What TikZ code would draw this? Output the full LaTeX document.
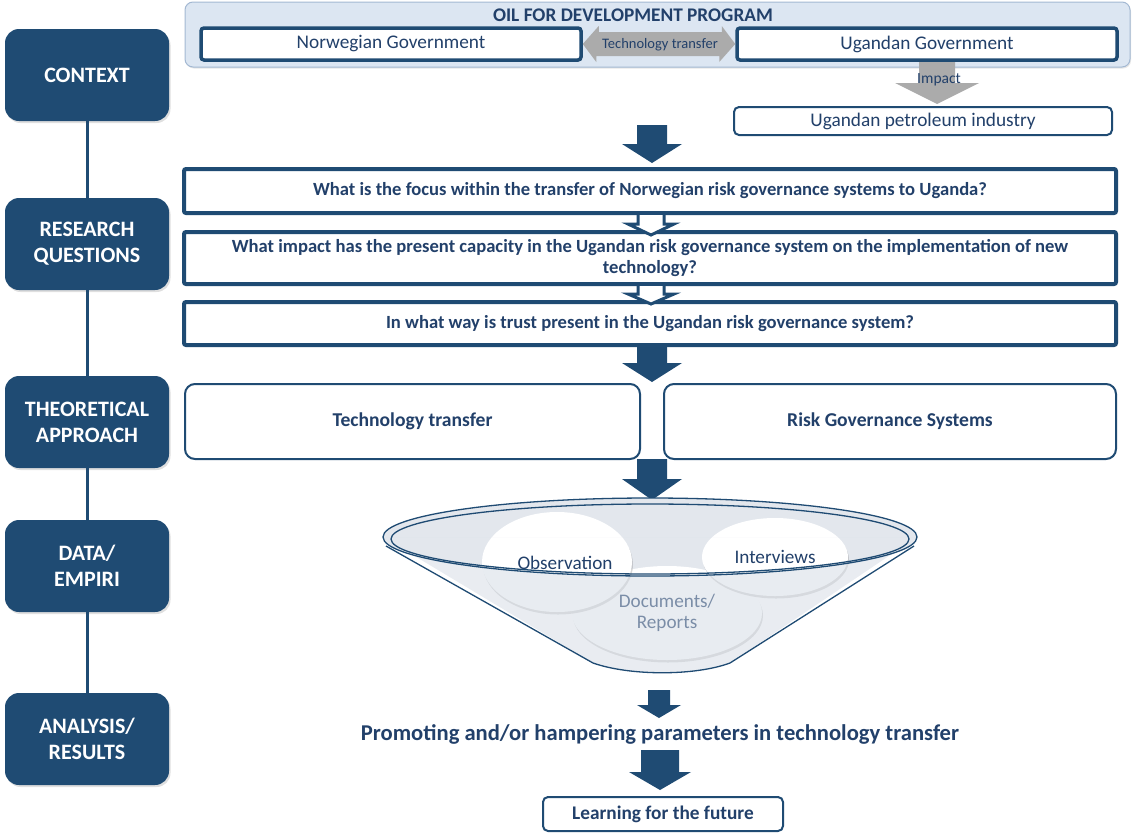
\documentclass[tikz,border=0pt]{standalone}
\usepackage{fontspec}
\setmainfont{Carlito}
\usetikzlibrary{shapes.geometric,shadows}
\definecolor{navy}{HTML}{1F4B73}
\definecolor{ink}{HTML}{22406A}
\definecolor{paleblue}{HTML}{DCE6F2}
\definecolor{frameblue}{HTML}{A3B8D2}
\definecolor{arrowgray}{HTML}{ABABAB}
\definecolor{funnelback}{HTML}{E3E7ED}
\definecolor{funnelfront}{HTML}{D3DAE4}

\begin{document}
\begin{tikzpicture}[x=1pt,y=-1pt,
  stage/.style={fill=navy, rounded corners=14pt, text=white,
    font=\bfseries\fontsize{22}{26}\selectfont, align=center,
    minimum width=164pt, minimum height=92pt, inner sep=0pt,
    drop shadow={opacity=0.25, shadow xshift=1.5pt, shadow yshift=-2pt}},
  govbox/.style={draw=navy, line width=3.5pt, fill=white, rounded corners=3pt,
    minimum width=380pt, minimum height=32pt, inner sep=0pt, text=ink,
    font=\fontsize{19.3}{22}\selectfont,
    drop shadow={opacity=0.2, shadow xshift=1pt, shadow yshift=-1.5pt}},
  question/.style={draw=navy, line width=4pt, fill=white, rounded corners=2pt,
    minimum width=932pt, inner sep=0pt, text=ink, align=center,
    font=\bfseries\fontsize{18.6}{21.5}\selectfont,
    drop shadow={opacity=0.2, shadow xshift=1pt, shadow yshift=-1.5pt}},
  theory/.style={draw=navy, line width=2pt, fill=white, rounded corners=10pt,
    minimum height=75pt, inner sep=0pt, text=ink,
    font=\bfseries\fontsize{19.6}{22}\selectfont},
  thinbox/.style={draw=navy, line width=2pt, fill=white, rounded corners=5pt,
    inner sep=0pt, text=ink},
  bubble/.style={ellipse, fill=white, inner sep=0pt, text=ink, align=center,
    font=\fontsize{19.2}{21}\selectfont,
    drop shadow={opacity=0.3, shadow xshift=1pt, shadow yshift=-2.5pt}},
  link/.style={draw=navy, line width=3pt},
  pics/blockdown/.style args={#1/#2/#3/#4}{code={
    \path[pic actions] (-#3,0) -- (#3,0) -- (#3,#1) -- (#4,#1) -- (0,#2)
      -- (-#4,#1) -- (-#3,#1) -- cycle;}},
  pics/hollowdown/.style args={#1/#2/#3/#4}{code={
    \fill[white] (-#3,0) -- (#3,0) -- (#3,#1) -- (#4,#1) -- (0,#2)
      -- (-#4,#1) -- (-#3,#1) -- cycle;
    \draw[navy, line width=3pt, line join=miter] (#3,0) -- (#3,#1) -- (#4,#1)
      -- (0,#2) -- (-#4,#1) -- (-#3,#1) -- (-#3,0);}}
]
\useasboundingbox (0,0) rectangle (1137,833);

% ---- stages on the left ----
\node[stage] (ctx)  at (87,75)  {CONTEXT};
\node[stage] (rq)   at (87,244) {RESEARCH\\QUESTIONS};
\node[stage] (ta)   at (87,422) {THEORETICAL\\APPROACH};
\node[stage] (de)   at (87,566) {DATA/\\EMPIRI};
\node[stage] (ar)   at (87,739) {ANALYSIS/\\RESULTS};
\draw[link] (ctx.south) -- (rq.north);
\draw[link] (rq.south) -- (ta.north);
\draw[link] (ta.south) -- (de.north);
\draw[link] (de.south) -- (ar.north);

% ---- context ----
\node[draw=frameblue, line width=1pt, fill=paleblue, rounded corners=8pt,
  minimum width=945pt, minimum height=65pt, inner sep=0pt,
  drop shadow={opacity=0.2, shadow xshift=1pt, shadow yshift=-1.5pt}]
  (ofd) at (657.5,34.5) {};
\node[text=ink, font=\bfseries\fontsize{19.3}{22}\selectfont] (ofdtitle)
  at (633,15) {OIL FOR DEVELOPMENT PROGRAM};
\node[govbox] (nor) at (391,44) {Norwegian Government};
\node[govbox] (uga) at (927,44) {Ugandan Government};

% technology transfer double arrow
\fill[arrowgray] (nor.east) -- ++(16,-18) -- ++(0,6) -- ++(123,0) -- ++(0,-6)
  -- (uga.west) -- ++(-16,18) -- ++(0,-6) -- ++(-123,0) -- ++(0,6) -- cycle;
\node[text=ink, font=\fontsize{14.5}{16}\selectfont] (tt) at (660,45) {Technology transfer};

% impact arrow
\node[thinbox, minimum width=378pt, minimum height=28pt,
  font=\fontsize{19.3}{22}\selectfont] (pet) at (923,121) {Ugandan petroleum industry};
\pic[fill=arrowgray] at (937,62) {blockdown=21/42/18/42};
\node[text=ink, font=\fontsize{15.5}{17}\selectfont] (imp) at (939,80) {Impact};

\pic[fill=navy] at (652,125) {blockdown=19/38/15/30};

% ---- research questions ----
\node[question, minimum height=44pt] (q1) at (650,191)
  {What is the focus within the transfer of Norwegian risk governance systems to Uganda?};
\node[question, minimum height=52pt] (q2) at (650,258)
  {What impact has the present capacity in the Ugandan risk governance system on the implementation of new\\technology?};
\node[question, minimum height=43pt] (q3) at (650,323.5)
  {In what way is trust present in the Ugandan risk governance system?};
\pic at (q1.south -| 651,0) {hollowdown=9/20/13/23};
\pic at (q2.south -| 651,0) {hollowdown=8/18/13/23};

\pic[fill=navy] at (652,345) {blockdown=18/37/15/30};

% ---- theoretical approach ----
\node[theory, minimum width=455pt] (tech) at (412.5,421.5) {Technology transfer};
\node[theory, minimum width=452pt] (risk) at (890,421.5) {Risk Governance Systems};

\pic[fill=navy] at (652,459) {blockdown=20/41/15/30};

% ---- data funnel ----
\fill[funnelback] (650,537) ellipse [x radius=267, y radius=39];
\node[bubble, minimum width=190pt, minimum height=94pt] (doc) at (667,613)
  {Documents/\\Reports};
\node[bubble, minimum width=150pt, minimum height=100pt] (obs) at (557,562) {};
\node[text=ink, font=\fontsize{19.2}{21}\selectfont] (obst) at (565,563) {Observation};
\node[bubble, minimum width=146pt, minimum height=78pt] (int) at (775,557) {Interviews};
% front face of the funnel (below the rim), tinted over the bubbles
\begin{scope}[even odd rule]
  \clip (370,537) rectangle (930,690)
    (650,537) ellipse [x radius=267, y radius=39];
  \fill[funnelfront, opacity=0.5] (383,537) -- (593,663)
    .. controls (630,676) and (695,676) .. (730,663) -- (917,537) -- cycle;
\end{scope}
\draw[navy, line width=1.3pt] (386,546) -- (593,663)
  .. controls (630,676) and (695,676) .. (730,663) -- (914,546);
\draw[navy, line width=1.3pt] (650,537) ellipse [x radius=267, y radius=39];
\draw[navy, line width=1.3pt] (650,539) ellipse [x radius=259, y radius=35];

% ---- analysis / results ----
\pic[fill=navy] at (659,690) {blockdown=15/28/11/22};
\node[text=ink, font=\bfseries\fontsize{22.6}{26}\selectfont] (prom) at (660,734)
  {Promoting and/or hampering parameters in technology transfer};
\pic[fill=navy] at (660,750) {blockdown=22/40/19/31};
\node[thinbox, minimum width=240pt, minimum height=34pt,
  font=\bfseries\fontsize{19.3}{22}\selectfont] (learn) at (663,814) {Learning for the future};
\end{tikzpicture}
\end{document}
